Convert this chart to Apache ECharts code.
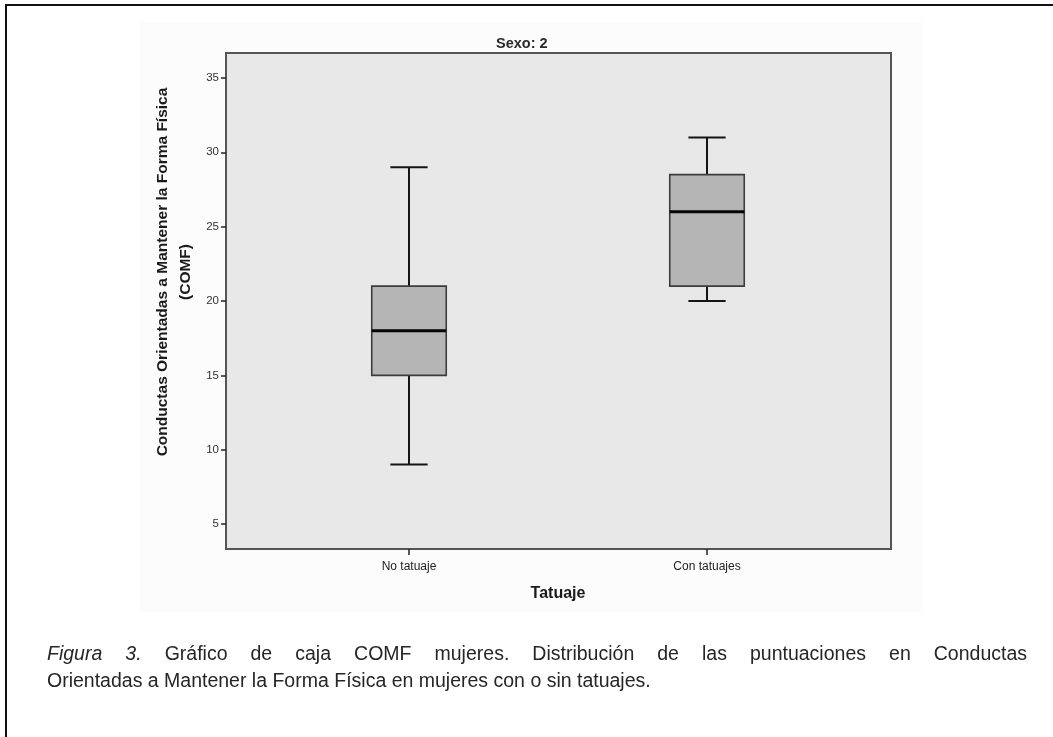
<!DOCTYPE html>
<html>
<head>
<meta charset="utf-8">
<script src="https://cdn.jsdelivr.net/npm/echarts@6/dist/echarts.min.js"></script>
<style>
html,body{margin:0;padding:0;background:#fff;}
#chart{width:1053px;height:737px;}
</style>
</head>
<body>
<div id="chart"></div>
<script>
// ---- data ----
const categories = ['No tatuaje', 'Con tatuajes'];
const boxMin = [9, 20];
const boxQ1 = [15, 21];
const boxMedian = [18, 26];
const boxQ3 = [21, 28.5];
const boxMax = [29, 31];
const yTickValues = [5, 10, 15, 20, 25, 30, 35];
const chartTitle = 'Sexo: 2';
const yAxisTitle = 'Conductas Orientadas a Mantener la Forma Física\n(COMF)';
const xAxisTitle = 'Tatuaje';
const captionItalic = ['Figura', '3.'];
const captionLine1 = 'Gráfico de caja COMF mujeres. Distribución de las puntuaciones en Conductas';
const captionLine2 = 'Orientadas a Mantener la Forma Física en mujeres con o sin tatuajes.';

// ---- chart ----
const FONT = '"Liberation Sans", Arial, sans-serif';
const Y_MIN = 3.32, Y_MAX = 36.68;

const chart = echarts.init(document.getElementById('chart'), null, {renderer: 'canvas'});

function renderBox(params, api) {
  const x = api.value(0);
  const pMin = api.coord([x, api.value(1)]);
  const pQ1 = api.coord([x, api.value(2)]);
  const pMed = api.coord([x, api.value(3)]);
  const pQ3 = api.coord([x, api.value(4)]);
  const pMax = api.coord([x, api.value(5)]);
  const band = api.size([1, 0])[0];
  const bw = band * 0.25;
  const cw = band * 0.125;
  const cx = pMin[0];
  const whisker = {stroke: '#151515', lineWidth: 2};
  return {
    type: 'group',
    children: [
      {type: 'line', shape: {x1: cx, y1: pMax[1], x2: cx, y2: pQ3[1]}, style: whisker},
      {type: 'line', shape: {x1: cx, y1: pQ1[1], x2: cx, y2: pMin[1]}, style: whisker},
      {type: 'line', shape: {x1: cx - cw / 2, y1: pMax[1], x2: cx + cw / 2, y2: pMax[1]}, style: whisker},
      {type: 'line', shape: {x1: cx - cw / 2, y1: pMin[1], x2: cx + cw / 2, y2: pMin[1]}, style: whisker},
      {type: 'rect', shape: {x: cx - bw / 2, y: pQ3[1], width: bw, height: pQ1[1] - pQ3[1]},
        style: {fill: '#b5b5b5', stroke: '#3c3c3c', lineWidth: 1.6}},
      {type: 'line', shape: {x1: cx - bw / 2, y1: pMed[1], x2: cx + bw / 2, y2: pMed[1]},
        style: {stroke: '#050505', lineWidth: 3}}
    ]
  };
}

const boxData = categories.map((c, i) => [i, boxMin[i], boxQ1[i], boxMedian[i], boxQ3[i], boxMax[i]]);

// caption layout (justified first line)
const CAP_SIZE = 19.5;
const capFont = (italic) => (italic ? 'italic ' : '') + CAP_SIZE + 'px ' + FONT;
const mctx = document.createElement('canvas').getContext('2d');
function measure(t, italic) { mctx.font = capFont(italic); return mctx.measureText(t).width; }
const CAP_LEFT = 47, CAP_RIGHT = 1027, CAP_Y1 = 655, CAP_Y2 = 682;
const words1 = captionItalic.map(w => ({t: w, it: true})).concat(captionLine1.split(' ').map(w => ({t: w, it: false})));
const totalW = words1.reduce((s, w) => s + measure(w.t, w.it), 0);
const gap = (CAP_RIGHT - CAP_LEFT - totalW) / (words1.length - 1);
const captionEls = [];
let cx0 = CAP_LEFT;
words1.forEach(w => {
  captionEls.push({type: 'text', x: cx0, y: CAP_Y1, silent: true,
    style: {text: w.t, font: capFont(w.it), fill: '#262626', textVerticalAlign: 'middle', textAlign: 'left'}});
  cx0 += measure(w.t, w.it) + gap;
});
captionEls.push({type: 'text', x: CAP_LEFT, y: CAP_Y2, silent: true,
  style: {text: captionLine2, font: capFont(false), fill: '#262626', textVerticalAlign: 'middle', textAlign: 'left'}});

const option = {
  animation: false,
  backgroundColor: '#ffffff',
  title: {
    text: chartTitle, left: 491, top: 31,
    textStyle: {fontSize: 14.5, fontWeight: 'bold', color: '#2a2a2a', fontFamily: FONT}
  },
  grid: [
    {left: 226, top: 53, width: 665, height: 496, show: true, backgroundColor: '#e8e8e8',
      borderColor: '#555555', borderWidth: 2},
    {left: 260, top: 53, width: 596, height: 496}
  ],
  xAxis: [
    {gridIndex: 0, type: 'value', min: 0, max: 1, show: false},
    {gridIndex: 1, type: 'category', data: categories, boundaryGap: true,
      axisLine: {show: false},
      axisTick: {show: true, alignWithLabel: true, length: 6, lineStyle: {color: '#222', width: 1.5}},
      axisLabel: {margin: 12, fontSize: 12, color: '#222', fontFamily: FONT},
      splitLine: {show: false}}
  ],
  yAxis: [
    {gridIndex: 0, type: 'value', min: Y_MIN, max: Y_MAX,
      axisLine: {show: false},
      axisTick: {show: true, length: 5, customValues: yTickValues, lineStyle: {color: '#222', width: 1.5}},
      axisLabel: {customValues: yTickValues, margin: 7, fontSize: 11.5, color: '#333', fontFamily: FONT},
      splitLine: {show: false}},
    {gridIndex: 1, type: 'value', min: Y_MIN, max: Y_MAX, show: false}
  ],
  series: [
    {type: 'custom', name: 'COMF', xAxisIndex: 1, yAxisIndex: 1, renderItem: renderBox,
      encode: {x: 0, y: [1, 2, 3, 4, 5]}, data: boxData, z: 5}
  ],
  graphic: [
    {type: 'rect', z: -10, silent: true, shape: {x: 140, y: 22, width: 783, height: 590},
      style: {fill: '#fcfcfc'}},
    {type: 'polyline', silent: true, shape: {points: [[6, 737], [6, 5], [1053, 5]]},
      style: {stroke: '#111', lineWidth: 2, fill: null}},
    {type: 'text', x: 174, y: 272, rotation: Math.PI / 2, silent: true,
      style: {text: yAxisTitle, font: 'bold 15.5px ' + FONT, fill: '#1a1a1a',
        textAlign: 'center', textVerticalAlign: 'middle', lineHeight: 23}},
    {type: 'text', x: 558, y: 594, silent: true,
      style: {text: xAxisTitle, font: 'bold 16px ' + FONT, fill: '#1a1a1a',
        textAlign: 'center', textVerticalAlign: 'middle'}}
  ].concat(captionEls)
};
chart.setOption(option);
</script>
</body>
</html>
